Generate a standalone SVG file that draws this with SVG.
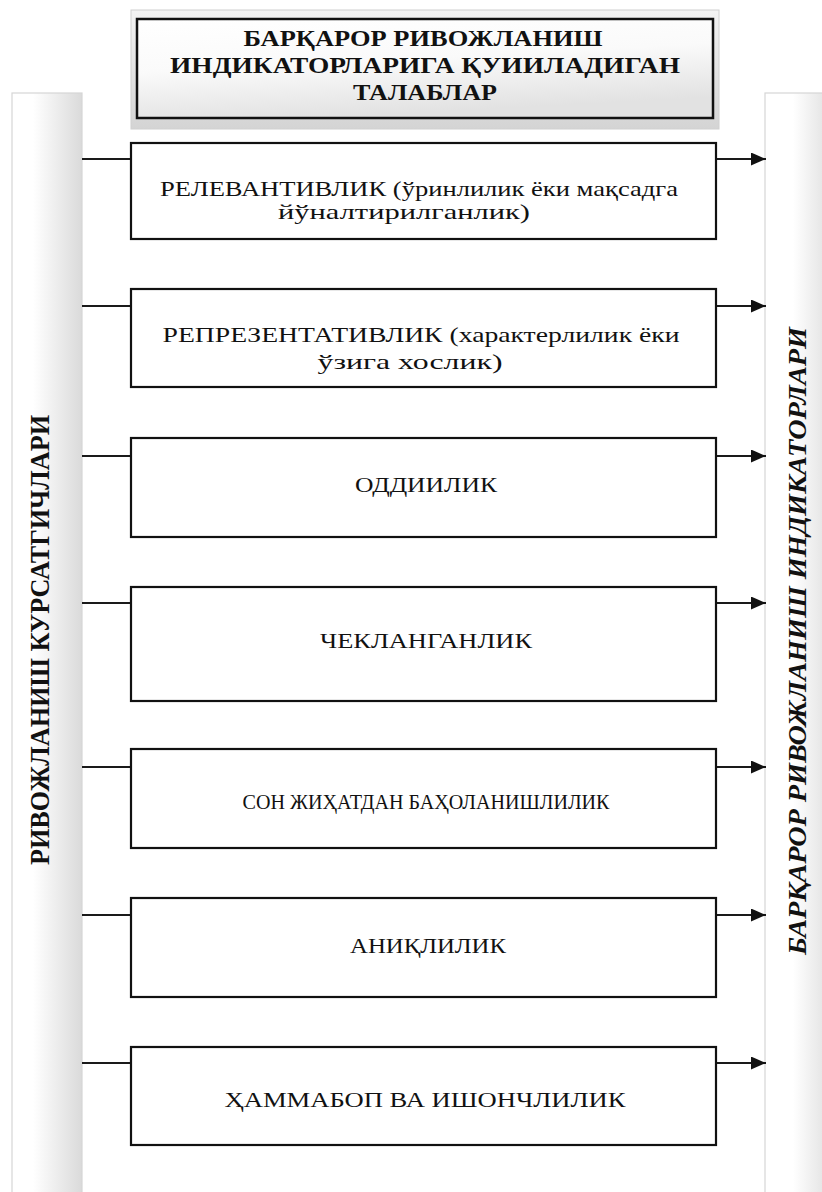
<svg xmlns="http://www.w3.org/2000/svg" width="822" height="1192" viewBox="0 0 822 1192">
<style>
.box{fill:#fff;stroke:#111;stroke-width:2.2}
.t{font-family:"Liberation Serif","Times New Roman",serif;font-size:21px;fill:#111;text-anchor:middle}
.h{font-family:"Liberation Serif","Times New Roman",serif;font-size:23px;font-weight:bold;fill:#111;text-anchor:middle}
.side{font-family:"Liberation Serif","Times New Roman",serif;font-weight:bold;fill:#111;text-anchor:middle}
.conn line{stroke:#1a1a1a;stroke-width:2}
</style>
<defs>
<linearGradient id="gL" x1="0" y1="0" x2="1" y2="0">
<stop offset="0" stop-color="#ffffff"/>
<stop offset="0.3" stop-color="#ffffff"/>
<stop offset="1" stop-color="#dadada"/>
</linearGradient>
<linearGradient id="gR" x1="0" y1="0" x2="1" y2="0">
<stop offset="0" stop-color="#ffffff"/>
<stop offset="0.4" stop-color="#ffffff"/>
<stop offset="1" stop-color="#dcdcdc"/>
</linearGradient>
<linearGradient id="gPanel" x1="0" y1="0" x2="0" y2="1">
<stop offset="0" stop-color="#f3f3f3"/>
<stop offset="1" stop-color="#d4d4d4"/>
</linearGradient>
<linearGradient id="gHead" x1="0" y1="0" x2="0.3" y2="1">
<stop offset="0" stop-color="#ffffff"/>
<stop offset="0.5" stop-color="#fafafa"/>
<stop offset="1" stop-color="#e2e2e2"/>
</linearGradient>
<marker id="arr" markerUnits="userSpaceOnUse" markerWidth="15" markerHeight="13" refX="15" refY="6.5" orient="auto">
<path d="M0,0 L15,6.5 L0,13 z" fill="#111"/>
</marker>
</defs>
<rect width="822" height="1192" fill="#fff"/>

<g id="left-bar">
<rect x="12" y="93" width="70" height="1110" fill="url(#gL)" stroke="#d6d6d6" stroke-width="1.2"/>
<text class="side" font-size="27" transform="translate(49,640) rotate(-90)" textLength="450" lengthAdjust="spacingAndGlyphs">РИВОЖЛАНИШ  КУРСАТГИЧЛАРИ</text>
</g>

<g id="right-bar">
<rect x="765" y="93" width="70" height="1110" fill="url(#gR)" stroke="#d6d6d6" stroke-width="1.2"/>
<text class="side" font-size="25" font-style="italic" transform="translate(806,641) rotate(-90)" textLength="628" lengthAdjust="spacingAndGlyphs">БАРҚАРОР  РИВОЖЛАНИШ  ИНДИКАТОРЛАРИ</text>
</g>

<g id="header">
<rect x="131" y="10" width="588" height="119" fill="url(#gPanel)" stroke="#d0d0d0" stroke-width="1"/>
<rect x="137" y="19" width="576" height="99" fill="url(#gHead)" stroke="#111" stroke-width="2.5"/>
<text class="h" x="423" y="46" textLength="359" lengthAdjust="spacingAndGlyphs">БАРҚАРОР РИВОЖЛАНИШ</text>
<text class="h" x="425" y="73" textLength="510" lengthAdjust="spacingAndGlyphs">ИНДИКАТОРЛАРИГА ҚУИИЛАДИГАН</text>
<text class="h" x="425" y="100" textLength="144" lengthAdjust="spacingAndGlyphs">ТАЛАБЛАР</text>
</g>

<g class="conn" id="connectors">
<line x1="82" y1="159" x2="131" y2="159"/>
<line x1="716" y1="159" x2="766" y2="159" marker-end="url(#arr)"/>
<line x1="82" y1="306" x2="131" y2="306"/>
<line x1="716" y1="306" x2="766" y2="306" marker-end="url(#arr)"/>
<line x1="82" y1="456" x2="131" y2="456"/>
<line x1="716" y1="456" x2="766" y2="456" marker-end="url(#arr)"/>
<line x1="82" y1="603" x2="131" y2="603"/>
<line x1="716" y1="603" x2="766" y2="603" marker-end="url(#arr)"/>
<line x1="82" y1="767" x2="131" y2="767"/>
<line x1="716" y1="767" x2="766" y2="767" marker-end="url(#arr)"/>
<line x1="82" y1="915" x2="131" y2="915"/>
<line x1="716" y1="915" x2="766" y2="915" marker-end="url(#arr)"/>
<line x1="82" y1="1063" x2="131" y2="1063"/>
<line x1="716" y1="1063" x2="766" y2="1063" marker-end="url(#arr)"/>
</g>

<g id="n1">
<rect class="box" x="131" y="143" width="585" height="96"/>
<text class="t" x="419" y="196" textLength="518" lengthAdjust="spacingAndGlyphs">РЕЛЕВАНТИВЛИК (ўринлилик ёки мақсадга</text>
<text class="t" x="404" y="219" textLength="252" lengthAdjust="spacingAndGlyphs">йўналтирилганлик)</text>
</g>
<g id="n2">
<rect class="box" x="131" y="289" width="585" height="98"/>
<text class="t" x="421" y="342" textLength="517" lengthAdjust="spacingAndGlyphs">РЕПРЕЗЕНТАТИВЛИК (характерлилик ёки</text>
<text class="t" x="410" y="369" textLength="185" lengthAdjust="spacingAndGlyphs">ўзига хослик)</text>
</g>
<g id="n3">
<rect class="box" x="131" y="438" width="585" height="99"/>
<text class="t" x="426" y="492" textLength="142" lengthAdjust="spacingAndGlyphs">ОДДИИЛИК</text>
</g>
<g id="n4">
<rect class="box" x="131" y="587" width="585" height="114"/>
<text class="t" x="426" y="648" textLength="212" lengthAdjust="spacingAndGlyphs">ЧЕКЛАНГАНЛИК</text>
</g>
<g id="n5">
<rect class="box" x="131" y="749" width="585" height="99"/>
<text class="t" x="426" y="809" textLength="367" lengthAdjust="spacingAndGlyphs">СОН ЖИҲАТДАН БАҲОЛАНИШЛИЛИК</text>
</g>
<g id="n6">
<rect class="box" x="131" y="898" width="585" height="99"/>
<text class="t" x="428" y="953" textLength="156" lengthAdjust="spacingAndGlyphs">АНИҚЛИЛИК</text>
</g>
<g id="n7">
<rect class="box" x="131" y="1047" width="585" height="98"/>
<text class="t" x="425" y="1107" textLength="401" lengthAdjust="spacingAndGlyphs">ҲАММАБОП ВА ИШОНЧЛИЛИК</text>
</g>
</svg>
